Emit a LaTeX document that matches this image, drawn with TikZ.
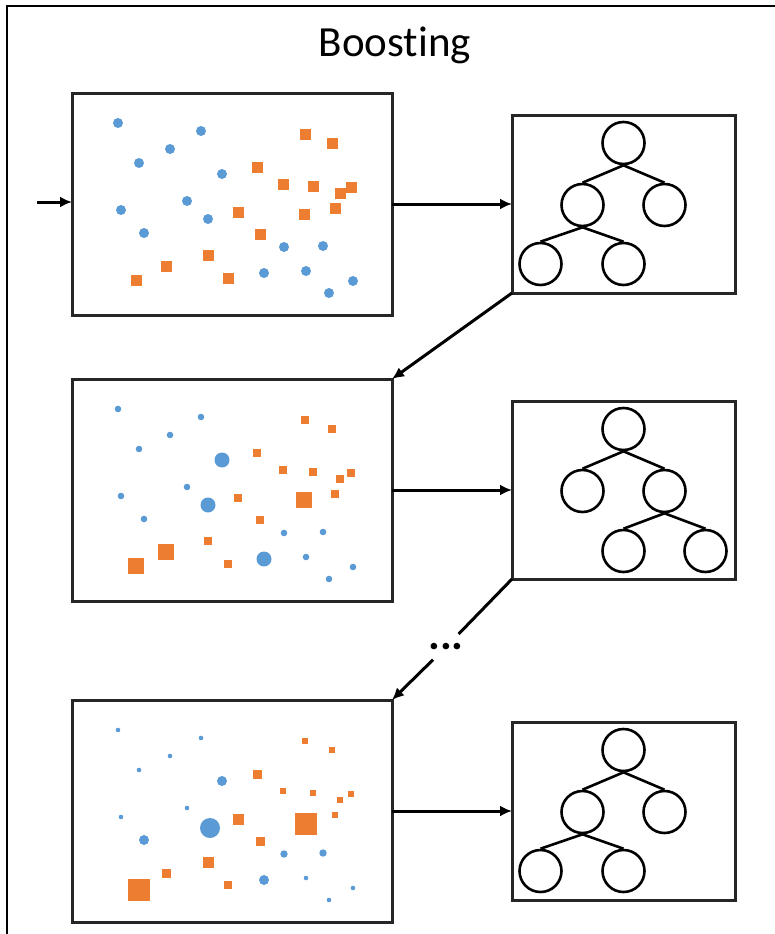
\documentclass[tikz,border=0pt]{standalone}
\usepackage{fontspec}
\setmainfont{Carlito}[Ligatures=NoCommon]
\usepackage{tikz}
\usetikzlibrary{arrows.meta,positioning}
\definecolor{pointblue}{HTML}{5B9BD5}
\definecolor{pointorange}{HTML}{ED7D31}

\begin{document}
\begin{tikzpicture}[
    x=1pt, y=-1pt,
    databox/.style={
        rectangle,
        draw=black!85,
        line width=3pt,
        inner sep=0pt,
        outer sep=0pt,
        minimum width=320pt,
        minimum height=222pt
    },
    treebox/.style={
        rectangle,
        draw=black!85,
        line width=3pt,
        inner sep=0pt,
        outer sep=0pt,
        minimum width=223pt,
        minimum height=178pt
    },
    leaf/.style={
        circle,
        draw,
        line width=2.6pt,
        inner sep=0pt,
        minimum size=42pt,
        on grid
    },
    branch/.style={line width=2.6pt},
    arrow/.style={-{Latex[length=12pt,width=11pt]}, line width=3pt},
    link/.style={line width=3pt},
    gap/.style={
        circle,
        inner sep=0pt,
        minimum size=34pt,
        font=\bfseries\fontsize{44}{48}\selectfont
    }
]
    \useasboundingbox (0,0) rectangle (775,934);
    \draw[line width=2.2pt] (775,6) -- (7,6) -- (7,934);

    \node[font=\fontsize{43}{50}\selectfont] (title) at (395,45) {Boosting};

    \node[databox] (data1) at (232,204) {};
    \node[treebox, right=120pt of data1] (tree1) {};
    \node[databox, below=64pt of data1] (data2) {};
    \node[treebox, right=120pt of data2] (tree2) {};
    \node[databox, below=99pt of data2] (data3) {};
    \node[treebox, right=120pt of data3] (tree3) {};

    \begin{scope}[shift={(data1.north west)}]
        \foreach \x/\y/\r in {46/30/5, 129/38/5, 98/56/5, 67/70/5, 150/81/5,
            115/108/5, 49/117/5, 136/126/5, 72/140/5, 212/154/5, 251/153/5,
            192/180/5, 234/178/5, 257/200/5, 281/188/5}
            \fill[pointblue] (\x,\y) circle[radius=\r];
        \foreach \x/\y/\s in {233/41/11, 260/50/11, 185/74/11, 211/91/11, 241/93/11,
            279/94/11, 268/100/11, 166/119/11, 232/121/11, 263/115/11, 188/141/11,
            136/162/11, 94/173/11, 64/187/11, 156/185/11}
            \fill[pointorange] (\x,\y) ++(-\s/2,-\s/2) rectangle ++(\s,\s);
    \end{scope}

    \begin{scope}[shift={(data2.north west)}]
        \foreach \x/\y/\r in {46/30/3.3, 129/38/3.3, 98/56/3.3, 67/70/3.3, 150/81/7.5,
            115/108/3.3, 49/117/3.3, 136/126/7.5, 72/140/3.3, 212/154/3.3, 251/153/3.3,
            192/180/7.5, 234/178/3.3, 257/200/3.3, 281/188/3.3}
            \fill[pointblue] (\x,\y) circle[radius=\r];
        \foreach \x/\y/\s in {233/41/8, 260/50/8, 185/74/8, 211/91/8, 241/93/8,
            279/94/8, 268/100/8, 166/119/8, 232/121/16, 263/115/8, 188/141/8,
            136/162/8, 94/173/16, 64/187/16, 156/185/8}
            \fill[pointorange] (\x,\y) ++(-\s/2,-\s/2) rectangle ++(\s,\s);
    \end{scope}

    \begin{scope}[shift={(data3.north west)}]
        \foreach \x/\y/\r in {46/30/2.3, 129/38/2.3, 98/56/2.3, 67/70/2.3, 150/81/5,
            115/108/2.3, 49/117/2.3, 138/128/10, 72/140/5, 212/154/3.7, 251/153/3.7,
            192/180/5, 234/178/2.3, 257/200/2.3, 281/188/2.3}
            \fill[pointblue] (\x,\y) circle[radius=\r];
        \foreach \x/\y/\s in {233/41/6, 260/50/6, 185/74/9, 211/91/6, 241/93/6,
            279/94/6, 268/100/6, 166/119/11, 234/124/22, 263/115/6, 188/141/9,
            136/162/11, 94/173/9, 67/190/22, 156/185/8}
            \fill[pointorange] (\x,\y) ++(-\s/2,-\s/2) rectangle ++(\s,\s);
    \end{scope}

    \node[leaf, above=61pt of tree1] (root1) {};
    \node[leaf, below left=62pt and 41pt of root1] (left1) {};
    \node[leaf, below right=62pt and 41pt of root1] (right1) {};
    \node[leaf, below left=59pt and 42pt of left1] (ll1) {};
    \node[leaf, below right=59pt and 41pt of left1] (lr1) {};
    \draw[branch] (root1.south) -- (left1.north);
    \draw[branch] (root1.south) -- (right1.north);
    \draw[branch] (left1.south) -- (ll1.north);
    \draw[branch] (left1.south) -- (lr1.north);

    \node[leaf, above=61pt of tree2] (root2) {};
    \node[leaf, below left=62pt and 41pt of root2] (left2) {};
    \node[leaf, below right=62pt and 41pt of root2] (right2) {};
    \node[leaf, below left=60pt and 41pt of right2] (rl2) {};
    \node[leaf, below right=60pt and 41pt of right2] (rr2) {};
    \draw[branch] (root2.south) -- (left2.north);
    \draw[branch] (root2.south) -- (right2.north);
    \draw[branch] (right2.south) -- (rl2.north);
    \draw[branch] (right2.south) -- (rr2.north);

    \node[leaf, above=61pt of tree3] (root3) {};
    \node[leaf, below left=62pt and 41pt of root3] (left3) {};
    \node[leaf, below right=62pt and 41pt of root3] (right3) {};
    \node[leaf, below left=59pt and 42pt of left3] (ll3) {};
    \node[leaf, below right=59pt and 41pt of left3] (lr3) {};
    \draw[branch] (root3.south) -- (left3.north);
    \draw[branch] (root3.south) -- (right3.north);
    \draw[branch] (left3.south) -- (ll3.north);
    \draw[branch] (left3.south) -- (lr3.north);

    \coordinate (input) at (37,202);
    \node[gap] (dots) at (446,647) {...};

    \draw[arrow] (input) -- (input -| data1.west);
    \draw[arrow] (data1) -- (tree1);
    \draw[arrow] (tree1.south west) -- (data2.north east);
    \draw[arrow] (data2) -- (tree2);
    \draw[link] (tree2.south west) -- (dots);
    \draw[arrow] (dots) -- (data3.north east);
    \draw[arrow] (data3) -- (tree3);
\end{tikzpicture}
\end{document}
